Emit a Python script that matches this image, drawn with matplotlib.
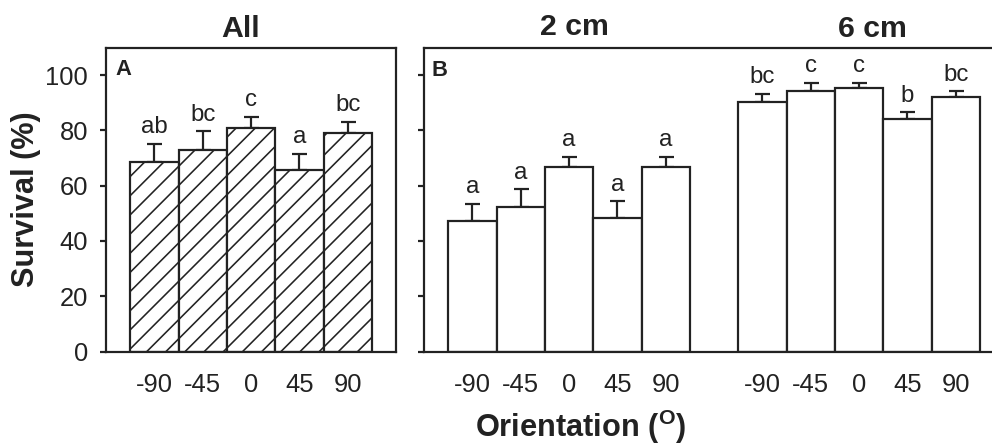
import numpy as np
import matplotlib
matplotlib.use("Agg")
import matplotlib.pyplot as plt

DPI = 115

# Data
orientations = ["-90", "-45", "0", "45", "90"]
letters_all = ["ab", "bc", "c", "a", "bc"]
survival_all = [68.4, 72.9, 80.8, 65.7, 79.2]
se_all = [6.8, 6.8, 4.1, 5.9, 3.9]

letters_2cm = ["a", "a", "a", "a", "a"]
survival_2cm = [47.2, 52.2, 66.8, 48.2, 66.8]
se_2cm = [6.3, 6.5, 3.6, 6.1, 3.6]

letters_6cm = ["bc", "c", "c", "b", "bc"]
survival_6cm = [90.2, 94.4, 95.3, 84.1, 92.2]
se_6cm = [3.0, 2.9, 1.9, 2.4, 2.0]


def px(n):
    """pixels -> points at the figure dpi"""
    return n * 72.0 / DPI


ink = "#222222"
plt.rcParams["font.family"] = ["Liberation Sans", "DejaVu Sans"]
plt.rcParams["mathtext.fontset"] = "custom"
plt.rcParams["mathtext.rm"] = "Liberation Sans"
plt.rcParams["mathtext.bf"] = "Liberation Sans:bold"
plt.rcParams["hatch.linewidth"] = px(1.6)
plt.rcParams["hatch.color"] = ink
lw = px(2.2)


def draw_group(ax, x, means, se, letters, hatch=None):
    ax.bar(x, means, width=1.0, color="white", edgecolor=ink,
           linewidth=lw, hatch=hatch, zorder=2)
    ax.errorbar(x, means, yerr=[np.zeros(len(se)), se], fmt="none",
                ecolor=ink, elinewidth=lw, capsize=px(7.5), capthick=lw,
                zorder=1)
    for xi, m, s, lab in zip(x, means, se, letters):
        ax.annotate(lab, (xi, m + s), xytext=(0, px(10.5)),
                    textcoords="offset points", ha="center", va="baseline",
                    fontsize=px(24), color=ink)


def style_axes(ax):
    ax.set_ylim(0, 110)
    ax.set_yticks([0, 20, 40, 60, 80, 100])
    for sp in ax.spines.values():
        sp.set_linewidth(lw)
        sp.set_color(ink)
    ax.tick_params(axis="y", direction="out", length=px(6),
                   width=lw, color=ink, pad=px(12), labelsize=px(25.5),
                   labelcolor=ink)
    ax.tick_params(axis="x", length=0, pad=px(21), labelsize=px(25.5),
                   labelcolor=ink)


fig = plt.figure(figsize=(992 / DPI, 448 / DPI), dpi=DPI)
H = 448.0
W = 992.0
bottom = (H - 351.5) / H
height = (351.5 - 47.5) / H

# Panel A - all orientations pooled
axA = fig.add_axes([106 / W, bottom, 290 / W, height])
xa = np.arange(1, 6)
draw_group(axA, xa, survival_all, se_all, letters_all, hatch="//")
style_axes(axA)
axA.set_xlim(0, 6)
axA.set_xticks(xa)
axA.set_xticklabels(orientations)
axA.text(0.031, 0.908, "A", transform=axA.transAxes, fontsize=px(22),
         fontweight="bold", color=ink, va="baseline")

# Panel B - 2 cm and 6 cm
axB = fig.add_axes([424 / W, bottom, (W - 424) / W, height])
x2 = np.arange(1, 6)
x6 = np.arange(7, 12)
draw_group(axB, x2, survival_2cm, se_2cm, letters_2cm)
draw_group(axB, x6, survival_6cm, se_6cm, letters_6cm)
style_axes(axB)
axB.spines["right"].set_visible(False)
axB.set_xlim(0, 11.75)
axB.set_xticks(np.concatenate([x2, x6]))
axB.set_xticklabels(orientations + orientations)
axB.tick_params(axis="y", labelleft=False)
axB.text(0.0136, 0.906, "B", transform=axB.transAxes, fontsize=px(22),
         fontweight="bold", color=ink, va="baseline")

# Titles and axis labels
title_fs = px(30.3)
fig.text(241 / W, 1 - 36.7 / H, "All", ha="center", va="baseline",
         fontsize=title_fs, fontweight="bold", color=ink)
fig.text(574 / W, 1 - 35.0 / H, "2 cm", ha="center", va="baseline",
         fontsize=title_fs, fontweight="bold", color=ink)
fig.text(872 / W, 1 - 37.3 / H, "6 cm", ha="center", va="baseline",
         fontsize=title_fs, fontweight="bold", color=ink)
fig.text(26 / W, (H - 199) / H, "Survival (%)", rotation=90, ha="center",
         va="center", fontsize=px(30.7), fontweight="bold", color=ink)
fig.text(581 / W, 10.7 / H, r"Orientation ($\mathbf{^{O}}$)", ha="center",
         va="baseline", fontsize=px(30.7), fontweight="bold", color=ink)

fig.savefig("out.png", dpi=DPI)
